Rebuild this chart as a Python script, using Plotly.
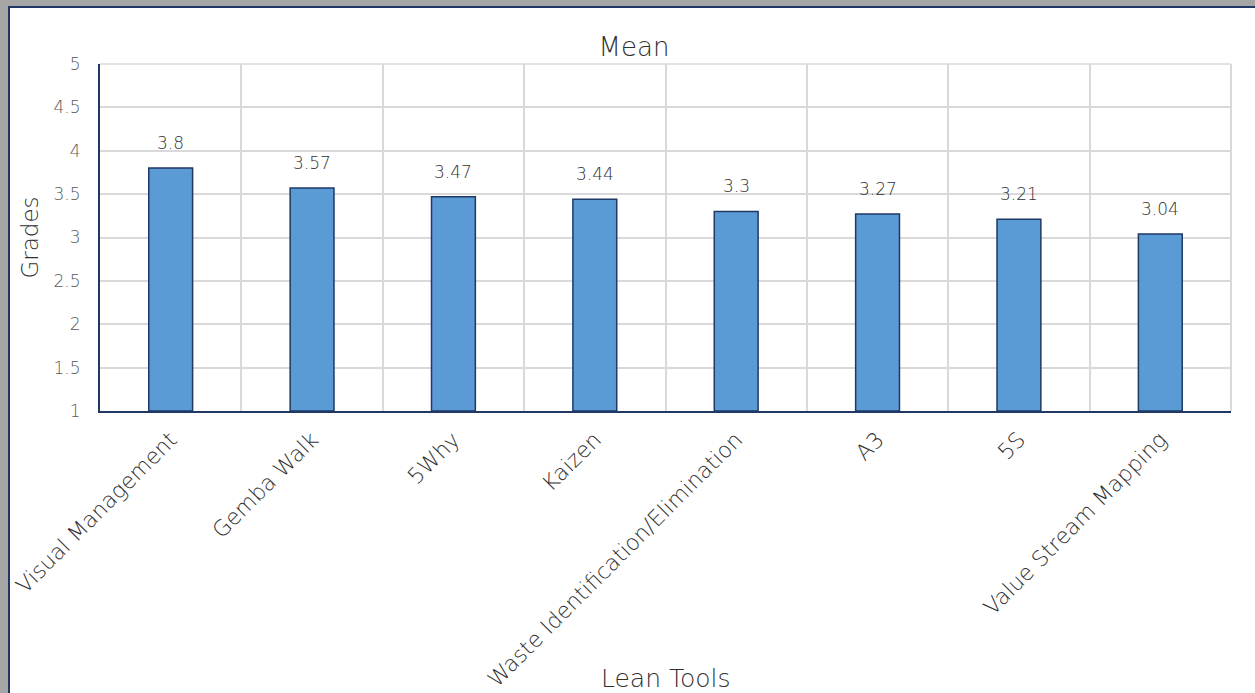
import plotly.graph_objects as go

# Mean grade per lean tool
tools = ["Visual Management", "Gemba Walk", "5Why", "Kaizen",
         "Waste Identification/Elimination", "A3", "5S", "Value Stream Mapping"]
means = [3.8, 3.57, 3.47, 3.44, 3.3, 3.27, 3.21, 3.04]
y_ticks = [1, 1.5, 2, 2.5, 3, 3.5, 4, 4.5, 5]
y_tick_text = ["1", "1.5", "2", "2.5", "3", "3.5", "4", "4.5", "5"]

FONT = "DejaVu Sans"
LIGHT = 200
TEXT = "#303030"
NAVY = "#1F3864"

W, H = 1255, 693
ML, MR, MT, MB = 100, 24, 64, 282
PW, PH = W - ML - MR, H - MT - MB


def px(x):
    return (x - ML) / PW


def py(y):
    return 1 - (y - MT) / PH


fig = go.Figure(go.Bar(
    x=tools,
    y=[m - 1 for m in means],
    base=1,
    width=0.31,
    marker=dict(color="#5B9BD5", line=dict(color=NAVY, width=1.5)),
    hovertemplate="%{x}: %{customdata}<extra></extra>",
    customdata=means,
))

# value labels above each bar
annotations = [
    dict(x=t, y=m, xref="x", yref="y", text=f"{m:g}", showarrow=False,
         yanchor="bottom", yshift=13,
         font=dict(family=FONT, size=17, color=TEXT, weight=LIGHT))
    for t, m in zip(tools, means)
]
# x-axis title, placed beside the long rotated labels
annotations.append(dict(
    text="Lean Tools", xref="paper", yref="paper", x=0.5, y=py(678),
    xanchor="center", yanchor="middle", showarrow=False,
    font=dict(family=FONT, size=25, color=TEXT, weight=LIGHT)))

# window frame around the chart
frame = [
    dict(type="rect", xref="paper", yref="paper", x0=px(0), x1=px(8), y0=py(H), y1=py(0),
         fillcolor="#A6A6A6", line_width=0, layer="above"),
    dict(type="rect", xref="paper", yref="paper", x0=px(0), x1=px(W), y0=py(6), y1=py(0),
         fillcolor="#A6A6A6", line_width=0, layer="above"),
    dict(type="line", xref="paper", yref="paper", x0=px(9), x1=px(9), y0=py(H), y1=py(6.5),
         line=dict(color=NAVY, width=2), layer="above"),
    dict(type="line", xref="paper", yref="paper", x0=px(8), x1=px(W), y0=py(7), y1=py(7),
         line=dict(color=NAVY, width=2), layer="above"),
    # light border on the top and right of the plot area
    dict(type="line", xref="paper", yref="paper", x0=0, x1=1, y0=1, y1=1,
         line=dict(color="#D9D9D9", width=1.5), layer="below"),
    dict(type="line", xref="paper", yref="paper", x0=1, x1=1, y0=0, y1=1,
         line=dict(color="#D9D9D9", width=2), layer="below"),
]

fig.update_layout(
    width=W, height=H,
    margin=dict(l=ML, r=MR, t=MT, b=MB, autoexpand=False),
    paper_bgcolor="white", plot_bgcolor="white",
    font=dict(family=FONT, color=TEXT, weight=LIGHT),
    showlegend=False,
    bargap=0.69,
    shapes=frame,
    annotations=annotations,
    title=dict(text="Mean", x=634 / W, xanchor="center", xref="container",
               y=1 - 47 / H, yanchor="middle",
               font=dict(family=FONT, size=26, color=TEXT, weight=LIGHT)),
    xaxis=dict(
        type="category",
        automargin=False,
        tickson="boundaries",
        showgrid=True, gridcolor="#D9D9D9", gridwidth=1.5,
        showline=True, linecolor=NAVY, linewidth=2,
        ticks="", tickangle=-45, ticklabelstandoff=5,
        tickfont=dict(family=FONT, size=22, color=TEXT, weight=LIGHT),
    ),
    yaxis=dict(
        automargin=False,
        range=[1, 5],
        tickvals=y_ticks, ticktext=y_tick_text,
        showgrid=True, gridcolor="#D9D9D9", gridwidth=1.5,
        showline=True, linecolor=NAVY, linewidth=2,
        ticks="", ticklen=0, ticklabelstandoff=14,
        tickfont=dict(family=FONT, size=17, color="#595959", weight=LIGHT),
        title=dict(text="Grades", standoff=9,
                   font=dict(family=FONT, size=23, color=TEXT, weight=LIGHT)),
        zeroline=False,
    ),
)

fig.write_html("out.html")
